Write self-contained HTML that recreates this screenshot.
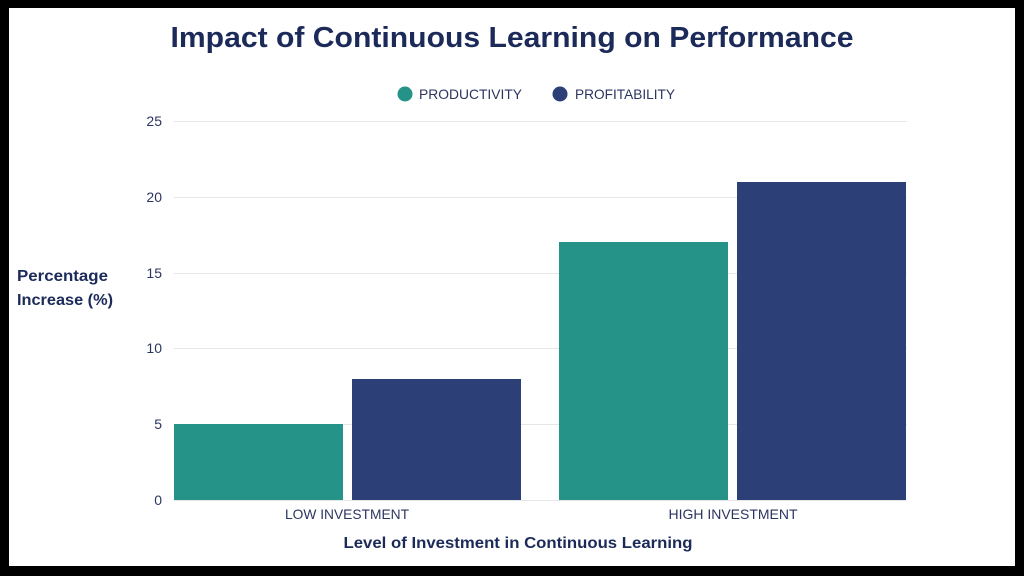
<!DOCTYPE html>
<html><head><meta charset="utf-8"><style>html,body{margin:0;padding:0;background:#000;}svg{display:block}</style></head>
<body>
<svg width="1024" height="576" viewBox="0 0 1024 576" xmlns="http://www.w3.org/2000/svg" font-family="Liberation Sans, sans-serif">
<rect x="0" y="0" width="1024" height="576" fill="#000"/>
<rect x="9" y="8" width="1006" height="558" fill="#fff"/>
<text x="512" y="47" text-anchor="middle" font-size="29" font-weight="bold" fill="#1b2a59" textLength="683" lengthAdjust="spacingAndGlyphs">Impact of Continuous Learning on Performance</text>
<circle cx="405" cy="94" r="7.5" fill="#259387"/>
<text x="419" y="99" font-size="14" fill="#2c3560" textLength="103" lengthAdjust="spacingAndGlyphs">PRODUCTIVITY</text>
<circle cx="560" cy="94" r="7.5" fill="#2c3f76"/>
<text x="575" y="99" font-size="14" fill="#2c3560" textLength="100" lengthAdjust="spacingAndGlyphs">PROFITABILITY</text>
<g stroke="#e6e6e6" stroke-width="1">
<line x1="174" y1="121.5" x2="907" y2="121.5"/>
<line x1="174" y1="197.5" x2="907" y2="197.5"/>
<line x1="174" y1="273.5" x2="907" y2="273.5"/>
<line x1="174" y1="348.5" x2="907" y2="348.5"/>
<line x1="174" y1="424.5" x2="907" y2="424.5"/>
<line x1="174" y1="500.5" x2="907" y2="500.5"/>
</g>
<g font-size="14" fill="#2c3560" text-anchor="end">
<text x="162" y="126">25</text>
<text x="162" y="202">20</text>
<text x="162" y="278">15</text>
<text x="162" y="353">10</text>
<text x="162" y="429">5</text>
<text x="162" y="505">0</text>
</g>
<rect x="174" y="424" width="169" height="76" fill="#259387"/>
<rect x="352" y="379" width="169" height="121" fill="#2c3f76"/>
<rect x="559" y="242" width="169" height="258" fill="#259387"/>
<rect x="737" y="182" width="169" height="318" fill="#2c3f76"/>
<text x="347" y="519" text-anchor="middle" font-size="14" fill="#2c3560" textLength="124" lengthAdjust="spacingAndGlyphs">LOW INVESTMENT</text>
<text x="733" y="519" text-anchor="middle" font-size="14" fill="#2c3560" textLength="129" lengthAdjust="spacingAndGlyphs">HIGH INVESTMENT</text>
<text x="518" y="548" text-anchor="middle" font-size="16" font-weight="bold" fill="#1b2a59" textLength="349" lengthAdjust="spacingAndGlyphs">Level of Investment in Continuous Learning</text>
<text x="17" y="281" font-size="16" font-weight="bold" fill="#1b2a59" textLength="91" lengthAdjust="spacingAndGlyphs">Percentage</text>
<text x="17" y="305" font-size="16" font-weight="bold" fill="#1b2a59" textLength="96" lengthAdjust="spacingAndGlyphs">Increase (%)</text>
</svg>
</body></html>
